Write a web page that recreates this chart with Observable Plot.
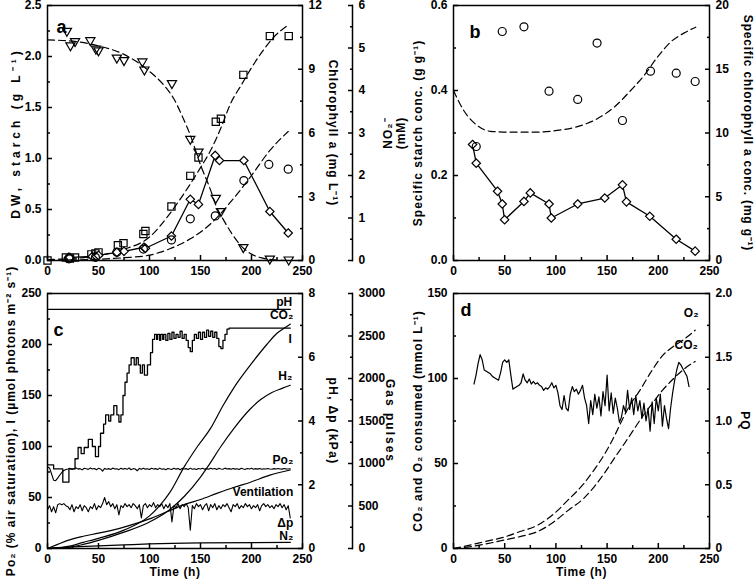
<!DOCTYPE html>
<html><head><meta charset="utf-8">
<script src="https://cdn.jsdelivr.net/npm/d3@7"></script>
<script src="https://cdn.jsdelivr.net/npm/@observablehq/plot@0.6"></script>
<style>
html,body{margin:0;padding:0;background:#fff;}
#chart{position:relative;width:756px;height:585px;overflow:hidden;background:#fff;}
#chart svg{position:absolute;left:0;top:0;}
</style></head><body><div id="chart"></div>
<script>
// ================= DATA =================
// x axis (time, h)
const xMajor = [0, 50, 100, 150, 200, 250];
const xMinor = [25, 75, 125, 175, 225];

// ---- Panel a ----
const aDWT = [0, 18, 22, 27, 43, 47, 50, 69, 74.5, 94, 96, 121.5, 140, 148, 165, 170, 192, 218, 236.5];
const aDW  = [0.00, 0.03, 0.02, 0.03, 0.06, 0.07, 0.08, 0.15, 0.17, 0.26, 0.29, 0.53, 0.83, 1.01, 1.36, 1.39, 1.82, 2.20, 2.20];
const aStarchT = [20.6, 22, 44, 48, 50, 68, 75, 94.5, 96, 121.5, 140, 148, 164.4, 168.6, 192.5, 218, 236];
const aStarch  = [0.03, 0.03, 0.04, 0.04, 0.05, 0.08, 0.09, 0.13, 0.12, 0.24, 0.60, 0.55, 1.03, 0.98, 0.98, 0.48, 0.27];
const aNO2T = [19, 22.5, 27, 42, 47.5, 50, 68, 75, 93, 95, 122, 140, 148, 165, 170, 192, 218, 236.5];
const aNO2  = [5.40, 5.06, 5.16, 5.18, 4.98, 4.94, 4.77, 4.71, 4.68, 4.49, 4.17, 2.86, 2.56, 1.47, 1.16, 0.31, 0.04, 0.02];
const aChlT = [21, 47, 68, 94, 121.5, 140, 164.5, 192.5, 217, 236];
const aChl  = [0.08, 0.15, 0.39, 0.54, 0.97, 1.96, 2.10, 3.76, 4.52, 4.30];
const aDWFitT = [0, 25, 50, 75, 100, 120, 130, 140, 150, 160, 170, 180, 190, 200, 210, 220, 236];
const aDWFit  = [0.01, 0.02, 0.05, 0.11, 0.23, 0.46, 0.60, 0.75, 0.91, 1.08, 1.30, 1.55, 1.72, 1.89, 2.04, 2.17, 2.31];
const aNO2FitT = [0, 25, 50, 75, 100, 115, 124, 132, 140, 150, 160, 165, 172, 180, 190, 200, 210, 220, 236];
const aNO2Fit  = [5.19, 5.16, 5.05, 4.85, 4.45, 4.10, 3.80, 3.40, 2.95, 2.25, 1.65, 1.30, 0.98, 0.66, 0.34, 0.15, 0.06, 0.02, 0.00];
const aChlFitT = [0, 25, 50, 75, 100, 110, 120, 140, 160, 180, 200, 218, 236];
const aChlFit  = [0.02, 0.03, 0.06, 0.13, 0.25, 0.38, 0.55, 1.02, 1.73, 2.78, 4.00, 5.18, 6.07];

// ---- Panel b ----
const bStarchT = [18.6, 22.2, 43, 47.6, 49.9, 68.8, 75, 93.3, 95.5, 121.3, 147.7, 165, 168.9, 191.7, 217.5, 236];
const bStarch  = [0.273, 0.229, 0.163, 0.133, 0.096, 0.139, 0.159, 0.133, 0.100, 0.133, 0.147, 0.178, 0.138, 0.104, 0.050, 0.022];
const bChlT = [22.2, 47.6, 68.8, 93.3, 121.3, 140.2, 165, 192.4, 217.5, 236];
const bChl  = [8.94, 17.96, 18.33, 13.28, 12.63, 17.05, 10.98, 14.85, 14.69, 14.04];
const bFitT = [0, 10, 23, 36, 55, 81, 101, 121, 140, 157, 173, 186, 199, 212, 225, 236.6];
const bFit  = [0.400, 0.353, 0.318, 0.304, 0.302, 0.302, 0.306, 0.315, 0.333, 0.361, 0.400, 0.435, 0.478, 0.514, 0.535, 0.549];

// ---- Panel c (values read against the left axis, 0-250) ----
const cHours = d3.range(0, 240, 2); // sampling grid 0..238 h
const cPo2 = [
  80, 79, 73, 67, 66.5, 69, 72, 74.5, 76.5, 77.5, 78,
  78.6, 77.4, 78.2, 79.0, 77.8, 78.3, 77.1, 78.7, 78.1, 77.6,
  78.9, 77.9, 78.4, 77.2, 78.6, 78.0, 75.8, 78.5, 77.7, 78.3,
  77.5, 78.8, 77.9, 78.2, 77.3, 78.6, 77.8, 78.4, 77.6, 78.9,
  77.2, 78.3, 77.9, 76.2, 78.5, 77.6, 78.7, 77.8, 78.2, 77.4,
  78.6, 77.9, 78.3, 77.5, 78.8, 77.7, 78.1, 77.3, 78.5, 78.0,
  77.6, 78.7, 77.8, 78.4, 77.2, 78.6, 77.9, 78.3, 77.5, 78.8,
  77.7, 78.2, 77.4, 78.5, 77.9, 78.6, 77.8, 78.3, 77.6, 78.7,
  77.9, 78.4, 77.5, 78.6, 78.0, 77.7, 78.8, 77.9, 78.3, 77.6,
  78.5, 77.8, 78.2, 77.4, 78.7, 78.0, 77.6, 78.4, 77.9, 78.6,
  77.7, 78.3, 77.8, 78.5, 77.6, 78.2, 77.9, 78.4, 78.0, 77.7,
  78.3, 77.9, 78.5, 78.0, 77.8, 78.4, 78.1, 77.9, 78.2
];
const cDp = [
  38, 42, 36, 41, 35, 43, 44, 43, 44, 42,
  41, 38, 43, 36, 41, 39, 43, 37, 42, 40,
  36, 41, 39, 44, 38, 42, 40, 44, 50, 43,
  46, 41, 44, 39, 43, 33, 42, 40, 44, 41,
  43, 40, 44, 42, 39, 43, 30, 42, 44, 40,
  43, 41, 45, 40, 43, 41, 44, 39, 43, 40,
  44, 26, 42, 40, 44, 39, 43, 41, 44, 40,
  18, 42, 39, 44, 41, 43, 38, 42, 44, 37,
  43, 40, 44, 38, 42, 39, 43, 41, 44, 40,
  36, 43, 41, 44, 39, 42, 40, 44, 41, 43,
  39, 42, 40, 43, 37, 42, 44, 41, 43, 40,
  42, 39, 43, 41, 44, 40, 43, 38, 42, 30
];
const cStepT = [0, 6, 15, 21, 27, 30, 33, 36, 40, 44, 47, 50, 52, 55, 57, 60, 62, 65, 68, 70, 72, 74, 76, 78, 80, 82, 85, 87, 89, 91, 93, 95, 98, 101, 103, 105, 107, 108, 110, 111, 113, 114, 116, 118, 120, 122, 124, 126, 128, 130, 132, 134, 136, 138, 140, 142, 144, 146, 148, 150, 152, 154, 156, 158, 160, 162, 164, 166, 168, 170, 172, 174, 176, 178, 238];
const cStep  = [82, 78, 65, 78, 88, 99, 93, 99, 107, 100, 90, 100, 113, 122, 131, 125, 131, 140, 131, 124, 131, 150, 163, 172, 180, 187, 180, 187, 180, 172, 180, 170, 180, 192, 205, 210, 205, 210, 204, 210, 205, 210, 204, 211, 205, 212, 206, 210, 207, 213, 206, 210, 204, 197, 193, 204, 210, 206, 212, 205, 212, 207, 214, 208, 213, 207, 212, 206, 198, 196, 204, 210, 215, 216, 216];
const cIT = [0, 10, 20, 35, 50, 75, 100, 110, 120, 134, 147, 160, 172, 183, 199, 215, 225, 232, 238];
const cI  = [0, 0.5, 2, 6, 10, 18, 32, 42, 55, 80, 100, 118, 140, 158, 180, 200, 211, 216, 220];
const cH2T = [0, 10, 20, 35, 50, 75, 100, 117, 134, 150, 157, 170, 183, 199, 209, 220, 230, 238];
const cH2  = [0, 0.3, 1, 4, 8, 16, 26, 36, 51, 70, 80, 100, 118, 137, 146, 153, 157, 160];
const cVentT = [0, 10, 20, 35, 50, 75, 100, 117, 134, 150, 166, 183, 199, 218, 238];
const cVent  = [0, 4, 8, 12, 15, 21, 29, 36, 43, 48, 54, 60, 65, 72, 77];
const cN2T = [0, 25, 50, 75, 100, 150, 238];
const cN2  = [0.5, 1.5, 2.5, 3.5, 4.5, 5.5, 6];
const cPHT = [0, 238];
const cPH  = [7.5, 7.5];

// ---- Panel d ----
const dO2T = [0, 16, 30, 49, 65, 81.5, 101, 111, 127, 137, 147, 157, 163, 172, 182, 192, 205, 215, 225, 236];
const dO2  = [0, 2, 4, 6.6, 10, 13.5, 22, 28, 38, 46, 55, 66, 73.5, 84, 93, 103, 114, 119, 123, 128.4];
const dCO2T = [0, 16, 30, 49, 65, 81.5, 101, 111, 127, 137, 147, 157, 165, 175, 185, 195, 204, 215, 225, 236];
const dCO2  = [0, 1, 2.5, 4.9, 7, 9.8, 17, 22, 29.4, 36, 44, 53, 60, 69, 78, 86, 93, 100, 105.5, 110];
const dHours = d3.range(20, 232, 2); // sampling grid 20..230 h
const dPQ = [
  1.29, 1.36, 1.45, 1.52, 1.48, 1.40, 1.39, 1.38, 1.37, 1.35,
  1.34, 1.33, 1.32, 1.38, 1.46, 1.48, 1.46, 1.48, 1.36, 1.25,
  1.26, 1.27, 1.28, 1.30, 1.37, 1.32, 1.30, 1.33, 1.29, 1.31,
  1.29, 1.30, 1.28, 1.27, 1.24, 1.26, 1.25, 1.27, 1.30, 1.26,
  1.28, 1.22, 1.12, 1.09, 1.20, 1.10, 1.08, 1.21, 1.27, 1.23,
  1.25, 1.21, 1.24, 1.28, 1.18, 1.12, 0.98, 1.16, 1.05, 1.21,
  1.10, 1.19, 1.04, 1.23, 1.12, 1.36, 1.08, 1.22, 1.06, 1.18,
  1.10, 0.99, 1.03, 1.12, 1.07, 1.24, 1.09, 1.18, 1.05, 1.20,
  1.08, 1.16, 1.02, 1.14, 1.00, 1.10, 0.92, 1.15, 0.98, 1.18,
  1.08, 1.21, 0.96, 1.12, 1.02, 0.94, 1.10, 1.22, 1.32, 1.40,
  1.46, 1.44, 1.41, 1.38, 1.35, 1.27
];

// ================= HELPERS =================
const W = 756, H = 585;
const chart = document.getElementById("chart");
const zip = (ts, vs) => ts.map((t, i) => ({t, v: vs[i]}));
const TITLES = new Map();

function layer({l, r, t, b, xr, yDomain, marks}) {
  const svg = Plot.plot({
    width: W, height: H,
    marginLeft: l, marginRight: W - r, marginTop: t, marginBottom: H - b,
    x: {domain: [0, 250], range: xr || [l, r], axis: null, label: null},
    y: {domain: yDomain, axis: null, label: null},
    style: "background: transparent; overflow: visible; font: bold 12px 'Liberation Sans', Arial, Helvetica, sans-serif; color: #000;",
    marks
  });
  svg.querySelectorAll("text").forEach(el => {
    if (TITLES.has(el.textContent)) el.style.letterSpacing = TITLES.get(el.textContent) + "px";
  });
  chart.append(svg);
}
function yAx(anchor, major, minor, fmt) {
  const ins = s => anchor === "left" ? {insetLeft: s} : {insetRight: s};
  return [
    Plot.axisY(major, {anchor, label: null, tickSize: 5, ...ins(5), tickPadding: 6, tickFormat: fmt, strokeWidth: 1.5}),
    Plot.axisY(minor, {anchor, label: null, tickSize: 3, ...ins(3), tickFormat: () => "", strokeWidth: 1.5})
  ];
}
function xAx() {
  return [
    Plot.axisX(xMajor, {anchor: "bottom", label: null, tickSize: 5, insetBottom: 5, tickPadding: 6, tickFormat: d3.format("d"), strokeWidth: 1.5}),
    Plot.axisX(xMinor, {anchor: "bottom", label: null, tickSize: 3, insetBottom: 3, tickFormat: () => "", strokeWidth: 1.5})
  ];
}
// rotated axis title, shifted horizontally (screen space) from the frame edge
function vtitle(s, frameAnchor, dx, rotate, spacing = 1) {
  TITLES.set(s.replace(/\n/g, ""), spacing);
  return Plot.text([s], {text: d => d, frameAnchor, textAnchor: "middle", lineAnchor: "middle", lineHeight: 1.05, dx, rotate, fontSize: 12, fontWeight: "bold"});
}
function htitle(s, dy) {
  TITLES.set(s, 0.6);
  return Plot.text([s], {text: d => d, frameAnchor: "bottom", textAnchor: "middle", dy, fontSize: 12, fontWeight: "bold"});
}
function letter(s, dx, dy) {
  return Plot.text([s], {text: d => d, frameAnchor: "top-left", dx, dy, fontSize: 18, fontWeight: "bold"});
}
const dash = "7,4";
const xy = {x: "t", y: "v"};

// ================= PANEL a =================
const boxA = {l: 47, r: 302, t: 5, b: 260};
layer({...boxA, yDomain: [0, 2.5], marks: [
  Plot.frame({strokeWidth: 1.5}),
  ...yAx("left", [0, 0.5, 1, 1.5, 2, 2.5], [0.25, 0.75, 1.25, 1.75, 2.25], d3.format(".1f")),
  ...xAx(),
  Plot.line(zip(aDWFitT, aDWFit), {...xy, strokeDasharray: dash, strokeWidth: 1.2, curve: "monotone-x"}),
  Plot.line(zip(aStarchT, aStarch), {...xy, strokeWidth: 1.3}),
  Plot.dot(zip(aDWT, aDW), {...xy, symbol: "square2", r: 4.6, stroke: "black", strokeWidth: 1.2}),
  Plot.dot(zip(aStarchT, aStarch), {...xy, symbol: "diamond2", r: 3.8, stroke: "black", fill: "white", strokeWidth: 1.2}),
  vtitle("DW, starch (g L⁻¹)", "left", -32, -90, 4),
  letter("a", 9, 15)
]});
layer({...boxA, yDomain: [0, 12], marks: [
  ...yAx("right", [0, 3, 6, 9, 12], [1.5, 4.5, 7.5, 10.5], d3.format("d")),
  Plot.line(zip(aChlFitT, aChlFit), {...xy, strokeDasharray: dash, strokeWidth: 1.2, curve: "monotone-x"}),
  Plot.dot(zip(aChlT, aChl), {...xy, symbol: "circle", r: 4, stroke: "black", strokeWidth: 1.2}),
  vtitle("Chlorophyll a (mg L⁻¹)", "right", 31, 90, 1)
]});
layer({l: 47, r: 352, t: 5, b: 260, xr: [47, 302], yDomain: [0, 6], marks: [
  Plot.frame({anchor: "right", strokeWidth: 1.5}),
  ...yAx("right", [0, 1, 2, 3, 4, 5, 6], [0.5, 1.5, 2.5, 3.5, 4.5, 5.5], d3.format("d")),
  Plot.line(zip(aNO2FitT, aNO2Fit), {...xy, strokeDasharray: dash, strokeWidth: 1.2, curve: "monotone-x"}),
  Plot.dot(zip(aNO2T, aNO2), {...xy, symbol: "triangle2", r: 4.4, rotate: 180, stroke: "black", strokeWidth: 1.2}),
  vtitle("NO₂⁻\n(mM)", "right", 42, -90, 1)
]});

// ================= PANEL b =================
const boxB = {l: 453, r: 709, t: 5, b: 260};
layer({...boxB, yDomain: [0, 0.6], marks: [
  Plot.frame({strokeWidth: 1.5}),
  ...yAx("left", [0, 0.2, 0.4, 0.6], [0.1, 0.3, 0.5], d3.format(".1f")),
  ...xAx(),
  Plot.line(zip(bFitT, bFit), {...xy, strokeDasharray: dash, strokeWidth: 1.2, curve: "monotone-x"}),
  Plot.line(zip(bStarchT, bStarch), {...xy, strokeWidth: 1.3}),
  Plot.dot(zip(bStarchT, bStarch), {...xy, symbol: "diamond2", r: 3.8, stroke: "black", fill: "white", strokeWidth: 1.2}),
  vtitle("Specific starch conc. (g g⁻¹)", "left", -36, -90, 1),
  letter("b", 16, 20)
]});
layer({...boxB, yDomain: [0, 20], marks: [
  ...yAx("right", [0, 5, 10, 15, 20], [2.5, 7.5, 12.5, 17.5], d3.format("d")),
  Plot.dot(zip(bChlT, bChl), {...xy, symbol: "circle", r: 4, stroke: "black", strokeWidth: 1.2}),
  vtitle("Specific chlorophyll a conc. (mg g⁻¹)", "right", 39, 90, 0.8)
]});

// ================= PANEL c =================
const boxC = {l: 47, r: 302, t: 293, b: 548};
const stepData = zip(cStepT, cStep);
const iData = zip(cIT, cI), h2Data = zip(cH2T, cH2), ventData = zip(cVentT, cVent), n2Data = zip(cN2T, cN2);
const po2Data = zip(cHours, cPo2), dpData = zip(cHours, cDp);
layer({...boxC, yDomain: [0, 250], marks: [
  Plot.frame({strokeWidth: 1.5}),
  ...yAx("left", [0, 50, 100, 150, 200, 250], [25, 75, 125, 175, 225], d3.format("d")),
  ...xAx(),
  Plot.line(stepData, {...xy, curve: "step-after", strokeWidth: 1.3}),
  Plot.line(po2Data, {...xy, strokeWidth: 1.1}),
  Plot.line(dpData, {...xy, strokeWidth: 1.1}),
  Plot.line(iData, {...xy, strokeWidth: 1.2, curve: "monotone-x"}),
  Plot.line(h2Data, {...xy, strokeWidth: 1.2, curve: "monotone-x"}),
  Plot.line(ventData, {...xy, strokeWidth: 1.2, curve: "monotone-x"}),
  Plot.line(n2Data, {...xy, strokeWidth: 1.2, curve: "monotone-x"}),
  Plot.text([stepData.at(-1)], {...xy, text: () => "CO₂", textAnchor: "end", dx: 3, dy: -13}),
  Plot.text([iData.at(-1)], {...xy, text: () => "I", textAnchor: "middle", dx: 0, dy: 15}),
  Plot.text([h2Data.at(-1)], {...xy, text: () => "H₂", textAnchor: "end", dx: 2, dy: -9}),
  Plot.text([po2Data.at(-1)], {...xy, text: () => "Po₂", textAnchor: "end", dx: 3, dy: -9}),
  Plot.text([ventData.at(-1)], {...xy, text: () => "Ventilation", textAnchor: "end", dx: 3, dy: 22}),
  Plot.text([n2Data.at(-1)], {...xy, text: () => "Δp", textAnchor: "end", dx: 3, dy: -19}),
  Plot.text([n2Data.at(-1)], {...xy, text: () => "N₂", textAnchor: "end", dx: 3, dy: -6}),
  vtitle("Po₂ (% air saturation), I (µmol photons m⁻² s⁻¹)", "left", -37, -90, 1),
  htitle("Time (h)", 27),
  letter("c", 6, 30)
]});
const phData = zip(cPHT, cPH);
layer({...boxC, yDomain: [0, 8], marks: [
  ...yAx("right", [0, 2, 4, 6, 8], [1, 3, 5, 7], d3.format("d")),
  Plot.line(phData, {...xy, strokeWidth: 1.3}),
  Plot.text([phData.at(-1)], {...xy, text: () => "pH", textAnchor: "end", dx: 2, dy: -7}),
  vtitle("pH, Δp (kPa)", "right", 31, 90, 1.3)
]});
layer({l: 47, r: 352, t: 293, b: 548, xr: [47, 302], yDomain: [0, 3000], marks: [
  Plot.frame({anchor: "right", strokeWidth: 1.5}),
  ...yAx("right", [0, 500, 1000, 1500, 2000, 2500, 3000], [250, 750, 1250, 1750, 2250, 2750], d3.format("d")),
  vtitle("Gas pulses", "right", 38, 90, 2)
]});

// ================= PANEL d =================
const boxD = {l: 453, r: 709, t: 293, b: 548};
const o2Data = zip(dO2T, dO2), co2Data = zip(dCO2T, dCO2);
layer({...boxD, yDomain: [0, 150], marks: [
  Plot.frame({strokeWidth: 1.5}),
  ...yAx("left", [0, 50, 100, 150], [25, 75, 125], d3.format("d")),
  ...xAx(),
  Plot.line(o2Data, {...xy, strokeDasharray: dash, strokeWidth: 1.2, curve: "monotone-x"}),
  Plot.line(co2Data, {...xy, strokeDasharray: dash, strokeWidth: 1.2, curve: "monotone-x"}),
  Plot.text([o2Data.at(-1)], {...xy, text: () => "O₂", textAnchor: "middle", dx: -4, dy: -17}),
  Plot.text([co2Data.at(-1)], {...xy, text: () => "CO₂", textAnchor: "middle", dx: -9, dy: -16}),
  vtitle("CO₂ and O₂ consumed (mmol L⁻¹)", "left", -36, -90, 1),
  htitle("Time (h)", 27),
  letter("d", 7, 10)
]});
layer({...boxD, yDomain: [0, 2], marks: [
  ...yAx("right", [0, 0.5, 1, 1.5, 2], [0.25, 0.75, 1.25, 1.75], d => d === 0 ? "0" : d.toFixed(1)),
  Plot.line(zip(dHours, dPQ), {...xy, strokeWidth: 1.2}),
  vtitle("PQ", "right", 36, 90, 1)
]});
</script></body></html>
